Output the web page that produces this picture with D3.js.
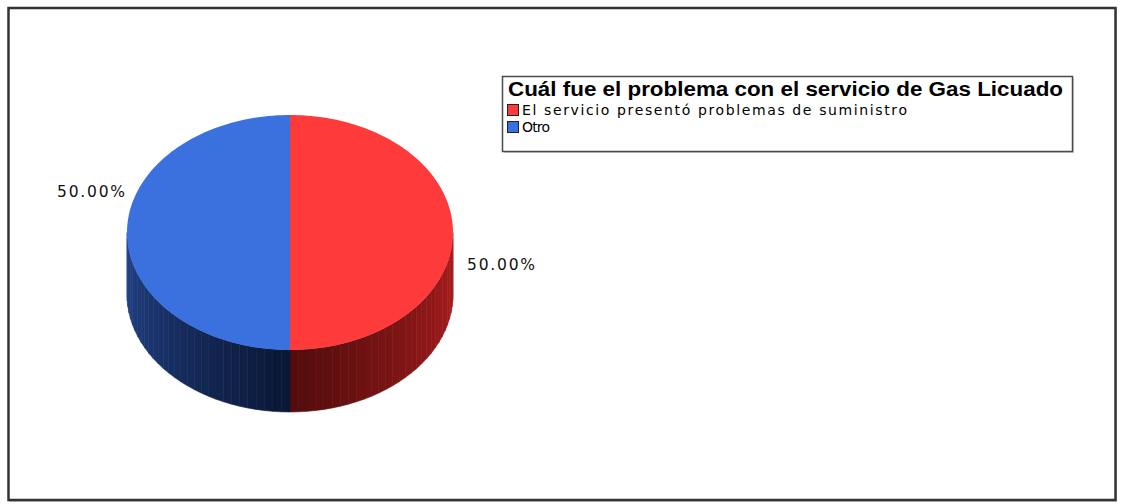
<!DOCTYPE html>
<html>
<head>
<meta charset="utf-8">
<script src="https://cdn.jsdelivr.net/npm/d3@7/dist/d3.min.js"></script>
<style>
  html, body { margin: 0; padding: 0; background: #fff; }
  svg { display: block; }
</style>
</head>
<body>
<svg id="chart" width="1125" height="504"></svg>
<script>
// Survey answers: what was the problem with the LPG service
const chartTitle = "Cuál fue el problema con el servicio de Gas Licuado";
const categories = ["El servicio presentó problemas de suministro", "Otro"];
const values = [50, 50];
const topColors = ["#ff3a3a", "#3b70df"];
const sideLight = ["#b01e1e", "#24448c"];
const sideDark = ["#520c0c", "#0a1735"];

const W = 1125, H = 504;
const svg = d3.select("#chart");

// outer frame
svg.append("rect")
  .attr("x", 9.5).attr("y", 9.5).attr("width", W - 18).attr("height", H - 12)
  .attr("fill", "none").attr("stroke", "#c8c8c8").attr("stroke-width", 1);
svg.append("rect")
  .attr("x", 8.5).attr("y", 8).attr("width", W - 18).attr("height", H - 12)
  .attr("fill", "#fff").attr("stroke", "#333").attr("stroke-width", 2.5);

// pie geometry (ellipse top + cylinder wall)
const cx = 290, cy = 232.5, rx = 163, ry = 117.5, depth = 62;
const pie = d3.pie().sort(null).value(d => d)(values);
const totalPct = d3.sum(values);
const fmt = v => d3.format(".2f")(v / totalPct * 100) + "%";

const px = a => cx + rx * Math.sin(a);
const py = a => cy - ry * Math.cos(a);

const g = svg.append("g");

// side wall: only the front half (angles between PI/2 and 3PI/2) is visible
pie.forEach((s, i) => {
  const a0 = Math.max(s.startAngle, Math.PI / 2);
  const a1 = Math.min(s.endAngle, 3 * Math.PI / 2);
  if (a1 <= a0) return;
  // shade darker toward the bottom of the wall (angle PI)
  const shade = d3.scaleLinear()
    .domain([0, Math.PI / 2])
    .range([sideDark[i], sideLight[i]])
    .interpolate(d3.interpolateRgb);
  const n = 30;
  const steps = d3.range(n + 1).map(k => a0 + (a1 - a0) * k / n);
  for (let k = 0; k < n; k++) {
    const b0 = steps[k], b1 = steps[k + 1];
    const mid = (b0 + b1) / 2;
    const col = shade(Math.abs(mid - Math.PI));
    const p = d3.path();
    p.moveTo(px(b0), py(b0));
    p.lineTo(px(b1), py(b1));
    p.lineTo(px(b1), py(b1) + depth);
    p.lineTo(px(b0), py(b0) + depth);
    p.closePath();
    g.append("path").attr("d", p.toString())
      .attr("fill", col).attr("stroke", col).attr("stroke-width", 0.6);
  }
});

// top face
pie.forEach((s, i) => {
  const n = 120;
  const p = d3.path();
  p.moveTo(cx, cy);
  d3.range(n + 1).forEach(k => {
    const a = s.startAngle + (s.endAngle - s.startAngle) * k / n;
    p.lineTo(px(a), py(a));
  });
  p.closePath();
  g.append("path").attr("d", p.toString()).attr("fill", topColors[i]);
});

// percentage labels next to each slice
pie.forEach((s, i) => {
  const mid = (s.startAngle + s.endAngle) / 2;
  const right = Math.sin(mid) > 0;
  const x = px(mid) + (right ? 14 : -2);
  const y = py(mid) + (right ? 37 : -36);
  svg.append("text")
    .attr("x", x).attr("y", y)
    .attr("text-anchor", right ? "start" : "end")
    .attr("font-family", "'DejaVu Sans', sans-serif")
    .attr("font-size", 15.5)
    .attr("textLength", 68).attr("lengthAdjust", "spacing")
    .attr("fill", "#111")
    .text(fmt(s.value));
});

// legend
const lg = svg.append("g").attr("transform", "translate(502,76)");
lg.append("rect").attr("x", 2).attr("y", 2).attr("width", 570).attr("height", 75)
  .attr("fill", "#d0d0d0");
lg.append("rect").attr("x", 0.5).attr("y", 0.5).attr("width", 570).attr("height", 75)
  .attr("fill", "#fff").attr("stroke", "#4a4a4a").attr("stroke-width", 1.5);
lg.append("text")
  .attr("x", 6).attr("y", 20)
  .attr("font-family", "'Liberation Sans', Arial, sans-serif")
  .attr("font-weight", "bold").attr("font-size", 20)
  .attr("textLength", 555).attr("lengthAdjust", "spacingAndGlyphs")
  .attr("fill", "#000")
  .text(chartTitle);
const itemLen = [385, 28];
categories.forEach((c, i) => {
  const y = 28 + i * 17;
  lg.append("rect").attr("x", 5.5).attr("y", y + 0.5).attr("width", 11).attr("height", 11)
    .attr("fill", topColors[i]).attr("stroke", "#222").attr("stroke-width", 1);
  lg.append("text")
    .attr("x", 20).attr("y", y + 11)
    .attr("font-family", "'DejaVu Sans', sans-serif")
    .attr("font-size", 14)
    .attr("textLength", itemLen[i]).attr("lengthAdjust", "spacing")
    .attr("fill", "#000")
    .text(c);
});
</script>
</body>
</html>
